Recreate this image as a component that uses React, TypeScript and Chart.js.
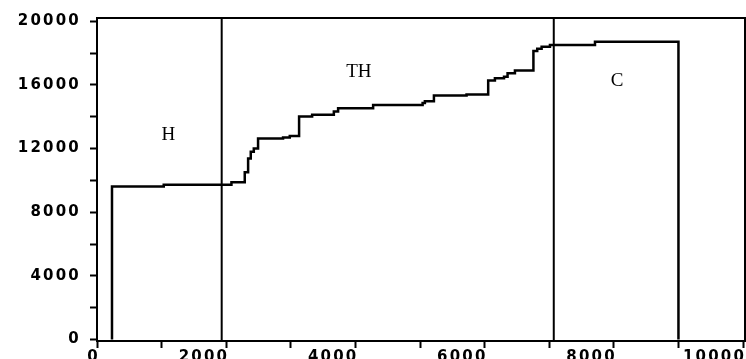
import React, { useEffect, useRef } from 'react';
import { Chart, registerables } from 'chart.js';

Chart.register(...registerables);

// Step series (x = position where the new level starts, y = level)
const stepX = [232, 232, 1033, 2081, 2287, 2339, 2380, 2427, 2493, 2880, 2984, 3128, 3330, 3666, 3732, 4274, 5040, 5075, 5215, 5720, 6055, 6159, 6300, 6355, 6469, 6755, 6814, 6882, 7011, 7708, 9000];
const stepY = [0, 9620, 9725, 9890, 10510, 11380, 11800, 12005, 12630, 12700, 12795, 14020, 14120, 14330, 14540, 14745, 14870, 14975, 15330, 15390, 16280, 16420, 16520, 16730, 16910, 18130, 18275, 18400, 18505, 18710, 0];

// Region boundaries
const boundaries = [1930, 7070];

// Region labels
const regionLabels = ['H', 'TH', 'C'];
const regionLabelX = [1103, 4053, 8049];
const regionLabelY = [12830, 16780, 16265];

// Axis ticks
const xTicks = [0, 1000, 2000, 3000, 4000, 5000, 6000, 7000, 8000, 9000, 10000];
const xTickLabels = ['0', '', '2000', '', '4000', '', '6000', '', '8000', '', '10000'];
const yTicks = [0, 2000, 4000, 6000, 8000, 10000, 12000, 14000, 16000, 18000, 20000];
const yTickLabels = ['0', '', '4000', '', '8000', '', '12000', '', '16000', '', '20000'];

const X_MIN = 0;
const X_MAX = 10030;
const Y_MIN = -93;
const Y_MAX = 20205;

const LETTER_SPACING = '2.2px';

const spacingPlugin = {
  id: 'spacing',
  beforeLayout(chart: any) {
    chart.ctx.letterSpacing = LETTER_SPACING;
  },
  beforeDraw(chart: any) {
    chart.ctx.letterSpacing = LETTER_SPACING;
  },
};

const framePlugin = {
  id: 'frame',
  afterDatasetsDraw(chart: any) {
    const { ctx, chartArea } = chart;
    ctx.save();
    ctx.strokeStyle = '#000';
    ctx.lineWidth = 2;
    ctx.beginPath();
    ctx.moveTo(chartArea.left, chartArea.top);
    ctx.lineTo(chartArea.right, chartArea.top);
    ctx.lineTo(chartArea.right, chartArea.bottom);
    ctx.stroke();
    ctx.restore();
  },
  afterDraw(chart: any) {
    const { ctx, scales } = chart;
    ctx.save();
    ctx.letterSpacing = '0px';
    ctx.fillStyle = '#000';
    ctx.font = '19px "Liberation Serif", serif';
    ctx.textAlign = 'center';
    ctx.textBaseline = 'middle';
    regionLabels.forEach((t, i) => {
      ctx.fillText(t, scales.x.getPixelForValue(regionLabelX[i]), scales.y.getPixelForValue(regionLabelY[i]));
    });
    ctx.restore();
  },
};

export default function App() {
  const ref = useRef<HTMLCanvasElement>(null);

  useEffect(() => {
    document.body.style.margin = '0';
    const canvas = ref.current;
    if (!canvas) return;

    const tickFont = { family: '"DejaVu Sans", sans-serif', size: 15, weight: 'bold' as const };

    const chart = new Chart(canvas, {
      type: 'line',
      data: {
        datasets: [
          {
            data: stepX.map((x, i) => ({ x, y: stepY[i] })),
            stepped: 'before',
            borderColor: '#000',
            borderWidth: 2.5,
            pointRadius: 0,
            fill: false,
          },
          ...boundaries.map((b) => ({
            data: [{ x: b, y: Y_MIN }, { x: b, y: Y_MAX }],
            borderColor: '#000',
            borderWidth: 2,
            pointRadius: 0,
            fill: false,
          })),
        ],
      },
      options: {
        animation: false,
        responsive: false,
        layout: { padding: { top: 15, right: 1, left: 0, bottom: 0 } },
        plugins: { legend: { display: false }, tooltip: { enabled: false } },
        scales: {
          x: {
            type: 'linear',
            min: X_MIN,
            max: X_MAX,
            afterBuildTicks: (scale: any) => {
              scale.ticks = xTicks.map((v) => ({ value: v }));
            },
            afterFit: (scale: any) => {
              scale.height = 18;
            },
            ticks: {
              autoSkip: false,
              maxRotation: 0,
              align: 'end',
              labelOffset: 3,
              padding: 0,
              color: '#000',
              font: tickFont,
              callback: (v: any) => xTickLabels[xTicks.indexOf(Number(v))] ?? '',
            },
            grid: { display: true, drawOnChartArea: false, drawTicks: true, tickLength: 7, tickWidth: 2, tickColor: '#000' },
            border: { display: true, color: '#000', width: 2 },
          },
          y: {
            type: 'linear',
            min: Y_MIN,
            max: Y_MAX,
            afterBuildTicks: (scale: any) => {
              scale.ticks = yTicks.map((v) => ({ value: v }));
            },
            afterFit: (scale: any) => {
              scale.width = 97;
            },
            ticks: {
              autoSkip: false,
              padding: 9,
              color: '#000',
              font: tickFont,
              callback: (v: any) => yTickLabels[yTicks.indexOf(Number(v))] ?? '',
            },
            grid: { display: true, drawOnChartArea: false, drawTicks: true, tickLength: 7, tickWidth: 2, tickColor: '#000' },
            border: { display: true, color: '#000', width: 2 },
          },
        },
      },
      plugins: [spacingPlugin, framePlugin],
    } as any);

    return () => chart.destroy();
  }, []);

  return (
    <div style={{ width: 746, height: 359 }}>
      <canvas ref={ref} width={746} height={359} style={{ display: 'block', width: 746, height: 359 }} />
    </div>
  );
}
